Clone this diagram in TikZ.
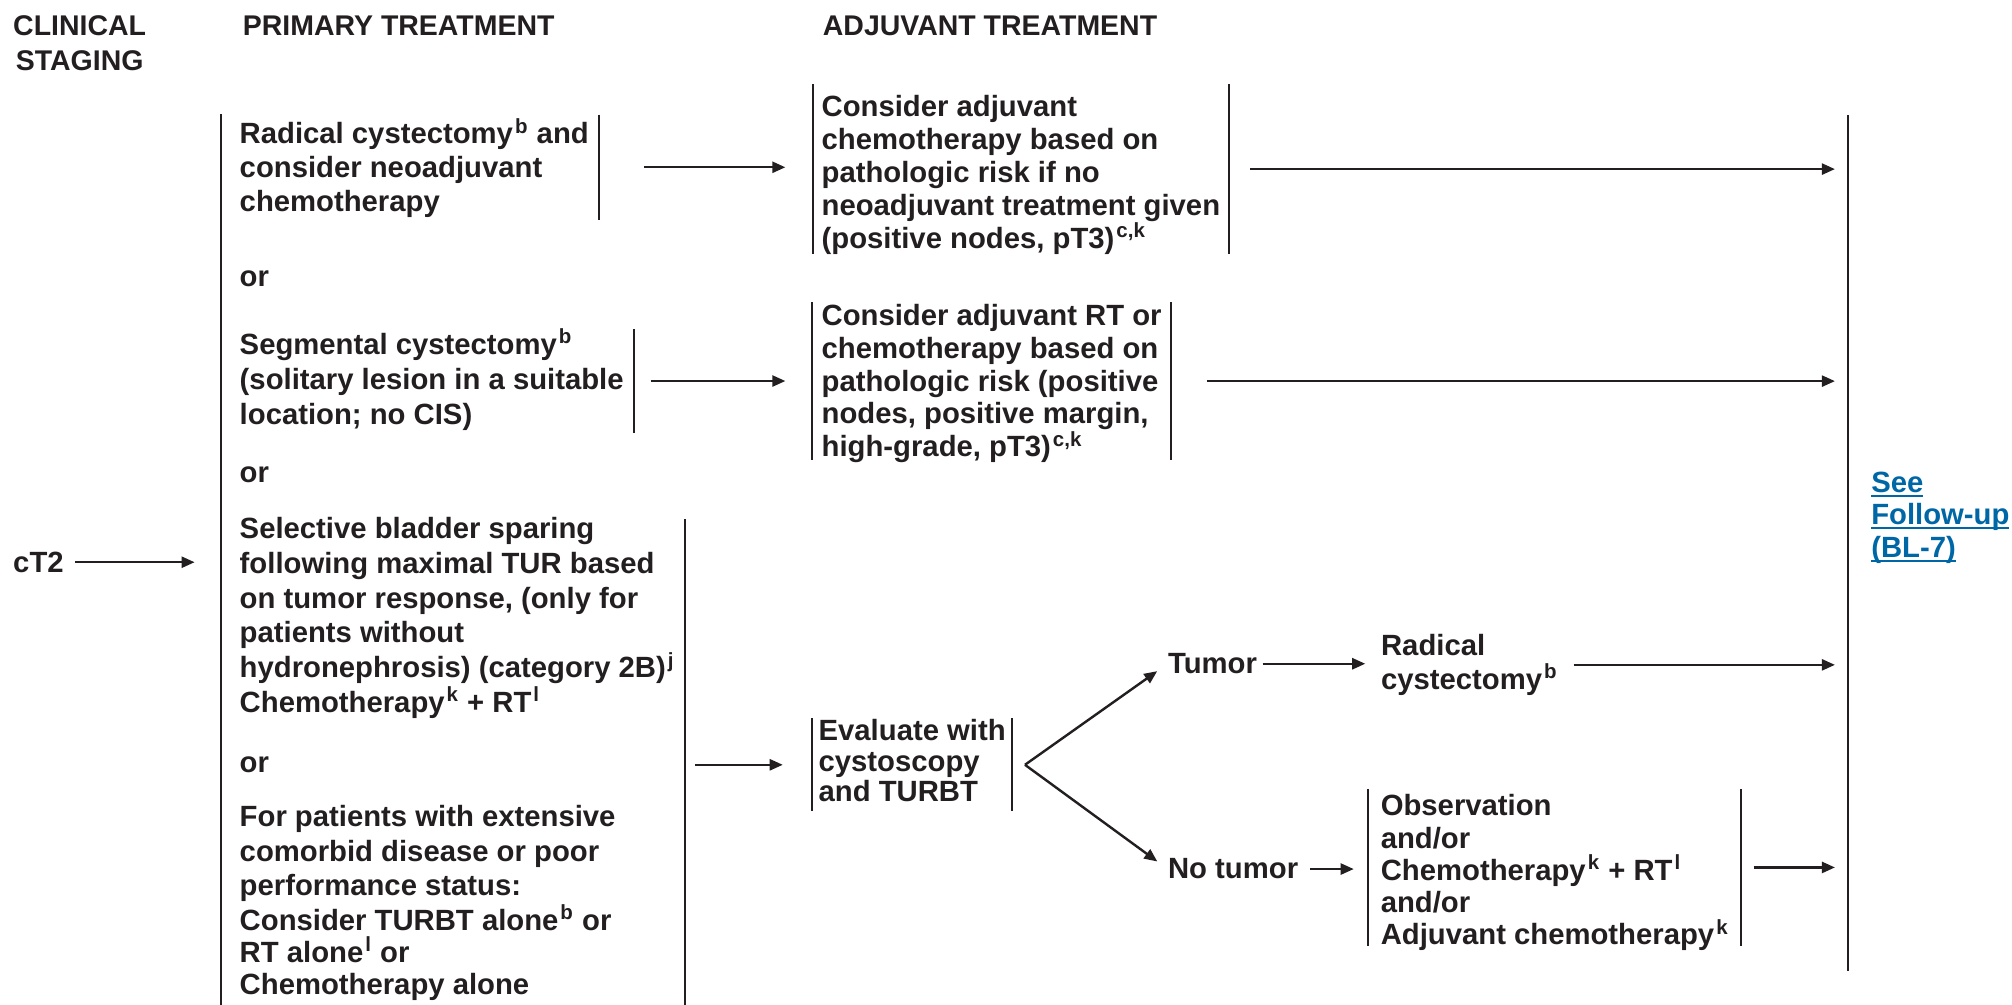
\documentclass[tikz,border=0pt]{standalone}
\usepackage{fontspec}
\setmainfont{Liberation Sans}
\usetikzlibrary{arrows.meta,fit}

\definecolor{ink}{HTML}{231F20}
\definecolor{linkblue}{HTML}{0067A6}
\newcommand{\fn}[1]{\kern1pt\textsuperscript{#1}}
\newcommand{\linkline}[1]{\setbox0=\hbox{#1}\rlap{\rule[-2.2pt]{\wd0}{0.9pt}}\box0}

\begin{document}
\begin{tikzpicture}[x=0.64pt, y=-0.64pt, color=ink,
                    body/.style={font=\fontsize{14.6}{#1}\selectfont\bfseries},
                    body/.default=17.3pt,
                    head/.style={font=\fontsize{14.2}{17.7}\selectfont\bfseries,
                                 inner sep=0pt, anchor=base west},
                    lbl/.style={body, inner sep=0pt, anchor=base west, align=left},
                    box/.style={body, anchor=base west, align=left,
                                inner xsep=#1, inner ysep=0pt},
                    box/.default=5pt,
                    bar/.style={line width=0.9pt},
                    arr/.style={-{Triangle[length=6.5pt,width=5.5pt]}, line width=1.2pt}]
                      \useasboundingbox (0,0) rectangle (1568,783);

                      % headings
                      \node[head, align=center] (stag) at (10,55) {CLINICAL\\STAGING};
                      \node[head] (hprim) at (189,27.3) {PRIMARY TREATMENT};
                      \node[head] (hadj) at (641,27.3) {ADJUVANT TREATMENT};

                      % primary treatment
                      \node[box, body=16.8pt, text height=47.9pt, text depth=4.2pt] (rc) at (178.7,164.5)
                          {Radical cystectomy\fn{b} and\\consider neoadjuvant\\chemotherapy};
                      \node[lbl] (or1) at (186.5,223) {or};
                      \node[box, body=17.6pt, text height=47.4pt, text depth=3.8pt] (seg) at (178.7,331)
                          {Segmental cystectomy\fn{b}\\(solitary lesion in a suitable\\location; no CIS)};
                      \node[lbl] (or2) at (186.5,376) {or};
                      \node[box, body=17.28pt, text height=236.8pt, text depth=5.1pt] (bsp) at (178.7,775)
                          {Selective bladder sparing\\following maximal TUR based\\on tumor response, (only for\\patients without\\hydronephrosis) (category 2B)\fn{j}\\Chemotherapy\fn{k} + RT\fn{l}\\[12.8pt]
                           or\\[9.6pt]
                           For patients with extensive\\comorbid disease or poor\\performance status:\\Consider TURBT alone\fn{b} or\\[-1.28pt]RT alone\fn{l} or\\[-1.28pt]Chemotherapy alone};
                      \node[fit=(rc)(bsp), inner xsep=3.8pt, inner ysep=0pt] (prim) {};
                      \node[lbl] (cT2) at (10,446) {cT2};

                      % adjuvant treatment
                      \node[box=4.3pt, body=16.4pt, text height=81.6pt, text depth=2.6pt] (adj1) at (633.3,193.5)
                          {Consider adjuvant\\chemotherapy based on\\pathologic risk if no\\neoadjuvant treatment given\\(positive nodes, pT3)\fn{c,k}};
                      \node[box=4.5pt, body=16.4pt, text height=76.8pt, text depth=1.3pt] (adj2) at (633,356)
                          {Consider adjuvant RT or\\chemotherapy based on\\pathologic risk (positive\\nodes, positive margin,\\high-grade, pT3)\fn{c,k}};
                      \node[box=3pt, body=15.4pt, text height=41.6pt, text depth=4.5pt] (eval) at (633,625)
                          {Evaluate with\\cystoscopy\\and TURBT};
                      \node[lbl] (tum) at (910,525) {Tumor};
                      \node[lbl, body=16.6pt] (rcy) at (1076,537) {Radical\\cystectomy\fn{b}};
                      \node[lbl] (notum) at (910,685) {No tumor};
                      \node[box=6pt, body=16.1pt, text height=77.7pt, text depth=0.4pt] (obs) at (1066.4,736.4)
                          {Observation\\and/or\\Chemotherapy\fn{k} + RT\fn{l}\\and/or\\Adjuvant chemotherapy\fn{k}};

                      % follow-up
                      \coordinate (fupt) at (1440,90);
                      \coordinate (fupb) at (1440,757);
                      \node[lbl, body=16.3pt, text=linkblue] (fup) at (1458,434.5)
                          {\linkline{See}\\\linkline{Follow-up}\\\linkline{(BL-7)}};

                      % brackets
                      \draw[bar] (prim.north west) -- (prim.south west);
                      \draw[bar] (fupt) -- (fupb);
                      \foreach \b in {rc, seg, bsp} {
                              \draw[bar] (\b.north east) -- (\b.south east);
                          }
                      \foreach \b in {adj1, adj2, eval, obs} {
                              \draw[bar] (\b.north west) -- (\b.south west) (\b.north east) -- (\b.south east);
                          }

                      % arrows
                      \draw[arr, shorten <=5.6pt, shorten >=13.3pt] (cT2.east) -- (cT2.east -| prim.west);
                      \draw[arr, shorten <=22.4pt, shorten >=13.6pt] (rc.east) -- (rc.east -| adj1.west);
                      \draw[arr, shorten <=8.3pt, shorten >=13.4pt] (seg.east) -- (seg.east -| adj2.west);
                      \draw[arr, shorten <=5.1pt, shorten >=14.7pt] (eval.west -| bsp.east) -- (eval.west);
                      \draw[arr, shorten <=10.6pt, shorten >=6.4pt] (adj1.east) -- (adj1.east -| fupt);
                      \draw[arr, shorten <=17.9pt, shorten >=6.4pt] (adj2.east) -- (adj2.east -| fupt);
                      \coordinate (fork) at ([xshift=6.4pt]eval.east);
                      \draw[arr, shorten >=6.4pt] (fork) -- (tum.west);
                      \draw[arr, shorten >=6.4pt] (fork) -- (notum.west);
                      \draw[arr, shorten <=2.6pt, shorten >=7.7pt] (tum.east) -- (tum.east -| rcy.west);
                      \draw[arr, shorten <=7.7pt, shorten >=6.4pt] (rcy.east) -- (rcy.east -| fupt);
                      \draw[arr, shorten <=5.8pt, shorten >=7.3pt] (notum.east) -- (notum.east -| obs.west);
                      \draw[arr, shorten <=6.4pt, shorten >=6.4pt] (obs.east) -- (obs.east -| fupt);
                  \end{tikzpicture}
\end{document}
